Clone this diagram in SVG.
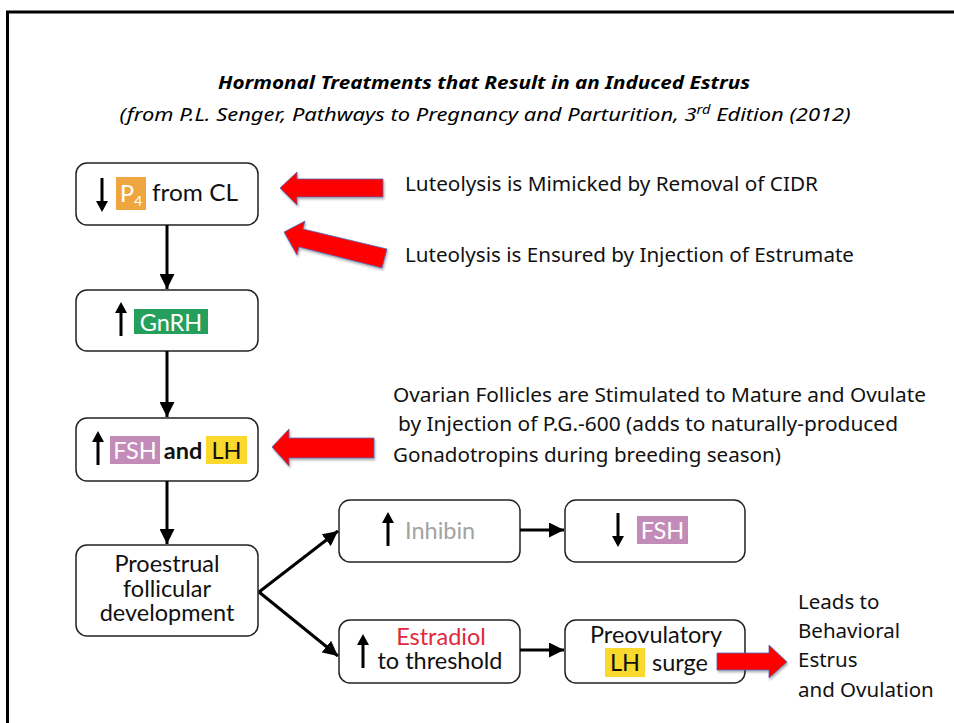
<svg xmlns="http://www.w3.org/2000/svg" width="954" height="723" viewBox="0 0 954 723">
<defs>
<style>
.box{fill:#fff;stroke:#222;stroke-width:1.5}
.bt{font-family:Lato,"Noto Sans",sans-serif;font-size:23.5px;fill:#111}
.wt{font-family:Lato,"Noto Sans",sans-serif;font-size:23.5px;fill:#fff}
.rt{font-family:"Noto Sans","Open Sans",sans-serif;font-size:20.5px;fill:#111}
.con{stroke:#000;stroke-width:3;fill:none}
.red{fill:#ff0000;stroke:#4a6fc0;stroke-width:0.8;filter:url(#sh)}
.ga{fill:#000;stroke:none}
</style>
<marker id="ah" viewBox="0 0 10 10" refX="10" refY="5" markerWidth="5" markerHeight="5" orient="auto" markerUnits="strokeWidth">
<path d="M0,0 L10,5 L0,10 Z" fill="#000"/>
</marker>
<filter id="sh" x="-20%" y="-20%" width="140%" height="150%">
<feDropShadow dx="1" dy="2" stdDeviation="1.2" flood-color="#000" flood-opacity="0.3"/>
</filter>
<g id="up"><path d="M-1.5,34 L-1.5,11 L-6,11 L0,0 L6,11 L1.5,11 L1.5,34 Z" class="ga"/></g>
<g id="dn"><path d="M-1.5,0 L-1.5,23 L-6,23 L0,34 L6,23 L1.5,23 L1.5,0 Z" class="ga"/></g>
</defs>
<rect width="954" height="723" fill="#fff"/>
<path d="M7.5,723 L7.5,12 L954,12" fill="none" stroke="#000" stroke-width="3"/>

<g id="title">
<text x="484" y="89" text-anchor="middle" font-family="'Noto Sans',sans-serif" font-size="18" font-weight="bold" font-style="italic" textLength="532" lengthAdjust="spacingAndGlyphs">Hormonal Treatments that Result in an Induced Estrus</text>
<text x="485" y="121" text-anchor="middle" font-family="'Noto Sans',sans-serif" font-size="18" font-style="italic" textLength="731" lengthAdjust="spacingAndGlyphs">(from P.L. Senger, Pathways to Pregnancy and Parturition, 3<tspan font-size="12" dy="-7">rd</tspan><tspan dy="7"> Edition (2012)</tspan></text>
</g>

<g id="n1">
<rect class="box" x="76" y="163" width="182" height="62" rx="11"/>
<use href="#dn" x="102" y="178"/>
<rect x="116" y="177" width="30" height="33" fill="#f0a640"/>
<text class="wt" x="120" y="202">P<tspan font-size="14" dy="4">4</tspan></text>
<text class="bt" x="152" y="201" textLength="86" lengthAdjust="spacingAndGlyphs">from CL</text>
</g>

<g id="n2">
<rect class="box" x="76" y="290" width="182" height="61" rx="11"/>
<use href="#up" x="121" y="302"/>
<rect x="134" y="309" width="74" height="25" fill="#25a05c"/>
<text class="wt" x="171" y="331" text-anchor="middle">GnRH</text>
</g>

<g id="n3">
<rect class="box" x="76" y="418" width="182" height="63" rx="11"/>
<use href="#up" x="98" y="431"/>
<rect x="110" y="436" width="50" height="28" fill="#c38bb8"/>
<text class="wt" x="135" y="459" text-anchor="middle">FSH</text>
<text class="bt" x="183" y="459" text-anchor="middle" font-weight="bold">and</text>
<rect x="206" y="436" width="41" height="28" fill="#fad92c"/>
<text class="bt" x="226.5" y="459" text-anchor="middle">LH</text>
</g>

<g id="n4">
<rect class="box" x="76" y="545" width="182" height="91" rx="11"/>
<text class="bt" x="167" y="572" text-anchor="middle">Proestrual</text>
<text class="bt" x="167" y="597" text-anchor="middle">follicular</text>
<text class="bt" x="167" y="621" text-anchor="middle">development</text>
</g>

<g id="n5">
<rect class="box" x="339" y="500" width="181" height="62" rx="11"/>
<use href="#up" x="388" y="512"/>
<text class="bt" x="405" y="539" style="fill:#a3a3a3">Inhibin</text>
</g>

<g id="n6">
<rect class="box" x="565" y="500" width="180" height="62" rx="11"/>
<use href="#dn" x="618" y="513"/>
<rect x="637" y="516" width="51" height="28" fill="#c38bb8"/>
<text class="wt" x="662.5" y="539" text-anchor="middle">FSH</text>
</g>

<g id="n7">
<rect class="box" x="339" y="620" width="181" height="63" rx="11"/>
<use href="#up" x="363" y="634"/>
<text class="bt" x="441" y="645" text-anchor="middle" style="fill:#e0283c">Estradiol</text>
<text class="bt" x="440" y="669" text-anchor="middle">to threshold</text>
</g>

<g id="n8">
<rect class="box" x="565" y="620" width="180" height="63" rx="11"/>
<text class="bt" x="656" y="643" text-anchor="middle">Preovulatory</text>
<rect x="605" y="648" width="40" height="29" fill="#fad92c"/>
<text class="bt" x="625" y="671" text-anchor="middle">LH</text>
<text class="bt" x="652" y="671">surge</text>
</g>

<g id="connectors">
<line class="con" x1="167" y1="225" x2="167" y2="289" marker-end="url(#ah)"/>
<line class="con" x1="167" y1="351" x2="167" y2="417" marker-end="url(#ah)"/>
<line class="con" x1="167" y1="481" x2="167" y2="544" marker-end="url(#ah)"/>
<line class="con" x1="259" y1="592" x2="338" y2="531" marker-end="url(#ah)"/>
<line class="con" x1="259" y1="592" x2="338" y2="656" marker-end="url(#ah)"/>
<line class="con" x1="520" y1="530" x2="564" y2="530" marker-end="url(#ah)"/>
<line class="con" x1="520" y1="650" x2="564" y2="650" marker-end="url(#ah)"/>
</g>

<g id="red-arrows">
<path class="red" d="M280,188 L297,172 L297,179 L383,179 L383,197 L297,197 L297,205 Z"/>
<path class="red" d="M284,232 L305,221 L303,229 L387,249 L382,268 L299,247 L297,255 Z"/>
<path class="red" d="M272,447 L289,429 L289,438 L374,438 L374,458 L289,458 L289,466 Z"/>
<path class="red" d="M787,662 L769,645 L769,653 L717,653 L717,670 L769,670 L769,678 Z"/>
</g>

<g id="notes">
<text class="rt" x="405" y="191" textLength="413" lengthAdjust="spacingAndGlyphs">Luteolysis is Mimicked by Removal of CIDR</text>
<text class="rt" x="405" y="262" textLength="449" lengthAdjust="spacingAndGlyphs">Luteolysis is Ensured by Injection of Estrumate</text>
<text class="rt" x="393" y="402" textLength="533" lengthAdjust="spacingAndGlyphs">Ovarian Follicles are Stimulated to Mature and Ovulate</text>
<text class="rt" x="398" y="431" textLength="500" lengthAdjust="spacingAndGlyphs">by Injection of P.G.-600 (adds to naturally-produced</text>
<text class="rt" x="393" y="462" textLength="388" lengthAdjust="spacingAndGlyphs">Gonadotropins during breeding season)</text>
<text class="rt" x="798" y="609">Leads to</text>
<text class="rt" x="798" y="638">Behavioral</text>
<text class="rt" x="798" y="667">Estrus</text>
<text class="rt" x="798" y="697">and Ovulation</text>
</g>
</svg>
